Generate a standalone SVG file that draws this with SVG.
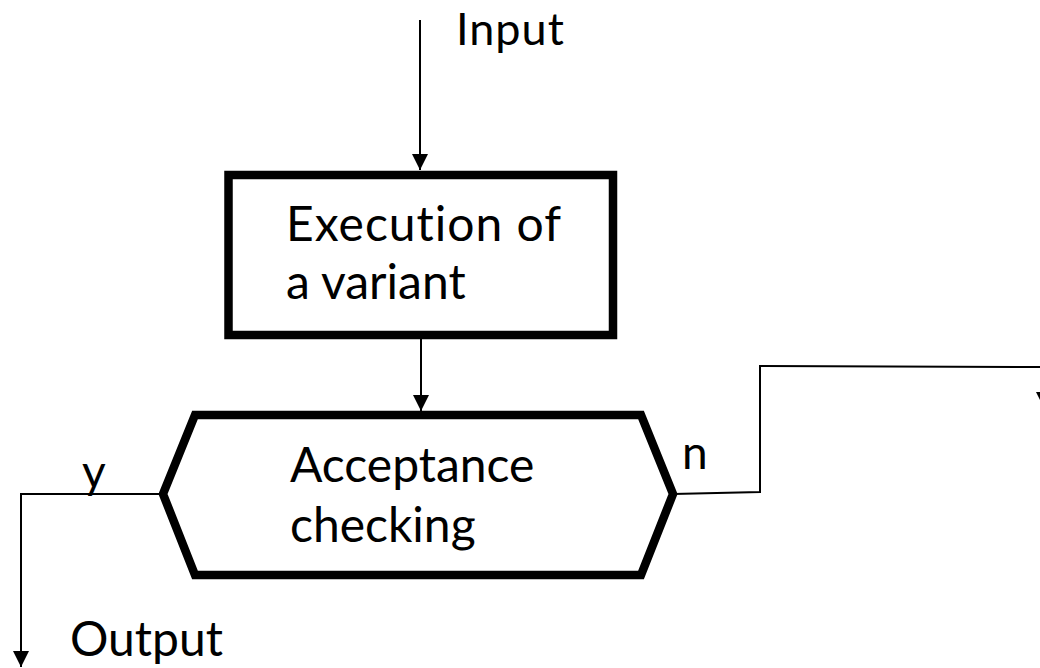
<svg xmlns="http://www.w3.org/2000/svg" width="1040" height="668" viewBox="0 0 1040 668">
  <style>
    .lbl { font-family: Lato, "Open Sans", "DejaVu Sans", sans-serif; font-size: 48px; fill: #000; font-variant-ligatures: none; }
    .sm { font-size: 46px; }
    .top { font-size: 45px; }
    .node { fill: #fff; stroke: #000; stroke-width: 8.5; stroke-linejoin: miter; }
    .conn { fill: none; stroke: #000; stroke-width: 2; }
  </style>
  <defs>
    <marker id="arrow" viewBox="0 0 16 16" refX="16" refY="8" markerWidth="16" markerHeight="16" markerUnits="userSpaceOnUse" orient="auto">
      <path d="M0,0 L16,8 L0,16 Z" fill="#000"/>
    </marker>
  </defs>
  <rect width="1040" height="668" fill="#fff"/>

  <g id="connectors">
    <path class="conn" d="M420,20 L420,170" marker-end="url(#arrow)"/>
    <path class="conn" d="M421,339 L421,411" marker-end="url(#arrow)"/>
    <path class="conn" d="M163,494 L21,494 L21,667" marker-end="url(#arrow)"/>
    <path class="conn" d="M673,494 L760,492 L760,366 L1044,367 L1044,408" marker-end="url(#arrow)"/>
  </g>

  <g id="input-label">
    <text class="lbl top" x="456" y="45" letter-spacing="1">Input</text>
  </g>

  <g id="execution">
    <rect class="node" x="228.5" y="175" width="384.5" height="160"/>
    <text class="lbl" x="286" y="241" letter-spacing="1">Execution of</text>
    <text class="lbl" x="286" y="299">a variant</text>
  </g>

  <g id="acceptance">
    <polygon class="node" points="195,415 641,415 673,494 641,575 195,575 163,494"/>
    <text class="lbl" x="290" y="482">Acceptance</text>
    <text class="lbl" x="290" y="542">checking</text>
  </g>

  <g id="branch-labels">
    <text class="lbl sm" x="82" y="488">y</text>
    <text class="lbl sm" x="682" y="469">n</text>
  </g>

  <g id="output-label">
    <text class="lbl" x="70" y="656">Output</text>
  </g>
</svg>
